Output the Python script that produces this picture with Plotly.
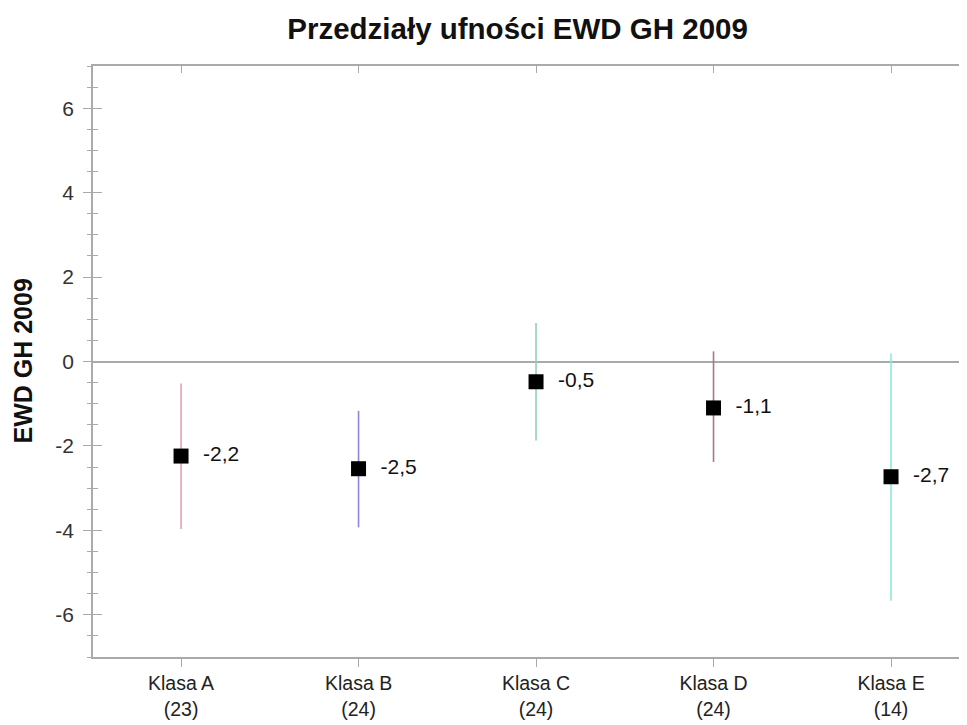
import plotly.graph_objects as go

classes = ["Klasa A", "Klasa B", "Klasa C", "Klasa D", "Klasa E"]
counts = [23, 24, 24, 24, 14]
means = [-2.24, -2.54, -0.48, -1.10, -2.73]
ci_low = [-3.97, -3.93, -1.87, -2.38, -5.67]
ci_high = [-0.52, -1.17, 0.91, 0.24, 0.19]
labels = ["-2,2", "-2,5", "-0,5", "-1,1", "-2,7"]
colors = ["#e8a0b0", "#8a86d8", "#8fd4b4", "#a87888", "#8eeadc"]
y_ticks = [-6, -4, -2, 0, 2, 4, 6]
y_ticktext = ["-6", "-4", "-2", "0", "2", "4", "6"]

FONT = "Liberation Sans, Arial, Helvetica, sans-serif"

fig = go.Figure()
for i, name in enumerate(classes):
    fig.add_trace(go.Scatter(
        x=[i], y=[means[i]],
        mode="markers+text",
        marker=dict(symbol="square", size=15, color="black"),
        text=["  " + labels[i]],
        textposition="middle right",
        textfont=dict(family=FONT, size=21, color="#111"),
        error_y=dict(type="data", symmetric=False,
                     array=[ci_high[i] - means[i]],
                     arrayminus=[means[i] - ci_low[i]],
                     color=colors[i], thickness=1.6, width=0),
        showlegend=False, hoverinfo="skip",
    ))

ticktext = [f"{c}<br>({n})" for c, n in zip(classes, counts)]
xr = [-0.496, 4.428]

fig.update_layout(
    width=967, height=725,
    margin=dict(l=85, r=8, t=58, b=76),
    paper_bgcolor="white", plot_bgcolor="white",
    title=dict(text="<b>Przedziały ufności EWD GH 2009</b>", x=0.527, xanchor="center",
               y=0.972, yanchor="middle",
               font=dict(family=FONT, size=29.5, color="#111")),
    font=dict(family=FONT, color="#333"),
    xaxis=dict(range=xr, tickvals=list(range(len(classes))), ticktext=ticktext,
               automargin=False,
               showgrid=False, zeroline=False, showline=True, linecolor="#aaa", linewidth=1.5,
               ticks="outside", ticklen=8, tickcolor="#aaa", tickwidth=1,
               tickfont=dict(family=FONT, size=19.5, color="#222")),
    xaxis2=dict(range=xr, overlaying="x", side="top", tickvals=list(range(len(classes))),
                automargin=False,
                showticklabels=False, showgrid=False, zeroline=False, showline=True,
                linecolor="#aaa", linewidth=1.5, ticks="inside", ticklen=7, tickcolor="#aaa"),
    yaxis=dict(range=[-7, 7], tickvals=y_ticks, ticktext=y_ticktext, showgrid=False,
               automargin=False, ticklabelstandoff=5,
               zeroline=True, zerolinecolor="#aaa", zerolinewidth=1.5,
               showline=True, linecolor="#aaa", linewidth=1.5,
               ticks="outside", ticklen=8, tickcolor="#aaa",
               minor=dict(dtick=0.5, ticks="outside", ticklen=4, tickcolor="#aaa"),
               tickfont=dict(family=FONT, size=21, color="#333")),
    yaxis2=dict(range=[-7, 7], overlaying="y", side="left", tickvals=y_ticks,
                automargin=False,
                showticklabels=False, showgrid=False, zeroline=False, showline=False,
                ticks="inside", ticklen=9, tickcolor="#aaa",
                minor=dict(dtick=0.5, ticks="inside", ticklen=5, tickcolor="#aaa")),
    annotations=[dict(text="<b>EWD GH 2009</b>", xref="paper", yref="paper",
                      x=-0.0812, y=0.5, xanchor="center", yanchor="middle",
                      textangle=-90, showarrow=False,
                      font=dict(family=FONT, size=25, color="#111"))],
)
# invisible trace to activate secondary axes
fig.add_trace(go.Scatter(x=[0], y=[0], xaxis="x2", yaxis="y2", mode="markers",
                         marker=dict(opacity=0), showlegend=False, hoverinfo="skip"))

fig.write_html("out.html")
